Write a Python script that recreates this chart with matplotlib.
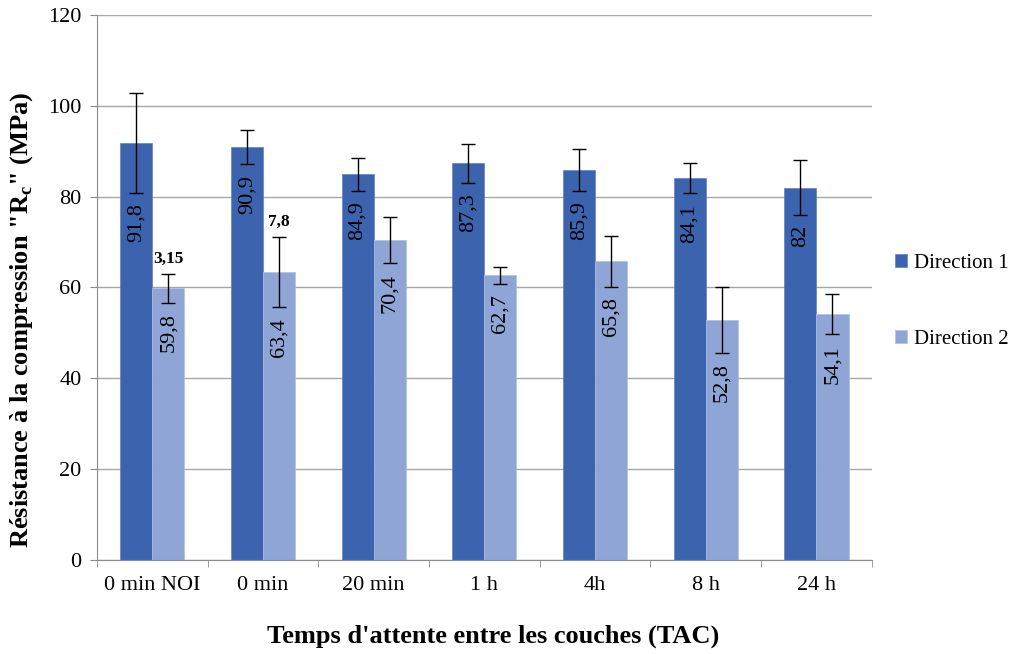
import numpy as np
import matplotlib
matplotlib.use('Agg')
import matplotlib.pyplot as plt
from matplotlib.ticker import FixedLocator

plt.rcParams['font.family'] = ['Liberation Serif', 'DejaVu Serif']
plt.rcParams['mathtext.fontset'] = 'custom'
plt.rcParams['mathtext.rm'] = 'Liberation Serif'
plt.rcParams['mathtext.bf'] = 'Liberation Serif:bold'

# data
categories = ['0 min NOI', '0 min', '20 min', '1 h', '4h', '8 h', '24 h']
dir1 = [91.8, 90.9, 84.9, 87.3, 85.9, 84.1, 82.0]
dir2 = [59.8, 63.4, 70.4, 62.7, 65.8, 52.8, 54.1]
err1 = [11.0, 3.8, 3.6, 4.3, 4.6, 3.4, 6.0]
err2 = [3.15, 7.8, 5.1, 1.9, 5.6, 7.2, 4.4]
labels1 = ['91,8', '90,9', '84,9', '87,3', '85,9', '84,1', '82']
labels2 = ['59,8', '63,4', '70,4', '62,7', '65,8', '52,8', '54,1']
notes2 = {0: '3,15', 1: '7,8'}

c1 = '#3c64ae'
c2 = '#8fa5d5'

fig = plt.figure(figsize=(10.09, 6.54), dpi=100)
ax = fig.add_axes([0.096, 0.144, 0.768, 0.833])

x = np.arange(len(categories))
w = 0.29

ax.bar(x - w / 2, dir1, w, color=c1, edgecolor='#5f82c2', linewidth=0.5,
       yerr=err1, error_kw=dict(ecolor='black', elinewidth=1, capsize=5, capthick=1),
       label='Direction 1', zorder=2)
ax.bar(x + w / 2, dir2, w, color=c2, edgecolor='#b0c0e3', linewidth=0.5,
       yerr=err2, error_kw=dict(ecolor='black', elinewidth=1, capsize=5, capthick=1),
       label='Direction 2', zorder=2)

# value labels inside bars, just below the error bar
for i in range(len(categories)):
    ax.text(x[i] - w / 2, dir1[i] - err1[i] - 2.3, labels1[i], rotation=90,
            ha='center', va='top', fontsize=16, zorder=3)
    ax.text(x[i] + w / 2, dir2[i] - err2[i] - 2.3, labels2[i], rotation=90,
            ha='center', va='top', fontsize=16, zorder=3)

for i, t in notes2.items():
    ax.text(x[i] + w / 2, dir2[i] + err2[i] + 1.5, t, ha='center', va='bottom',
            fontsize=12.5, fontweight='bold', zorder=3)

ax.set_xlim(-0.5, len(categories) - 0.5)
ax.set_ylim(0, 120)
ax.set_yticks(np.arange(0, 121, 20))
ax.yaxis.grid(True, color='#a6a6a6', linewidth=1, zorder=0)
ax.set_axisbelow(True)

ax.set_xticks(x)
ax.set_xticklabels(categories, fontsize=16)
ax.xaxis.set_minor_locator(FixedLocator(np.arange(-0.5, len(categories), 1)))
ax.tick_params(axis='x', which='major', length=0, pad=12)
ax.tick_params(axis='x', which='minor', length=5, color='#8c8c8c')
ax.tick_params(axis='y', length=5, color='#8c8c8c', labelsize=16, pad=6)

for s in ['top', 'right']:
    ax.spines[s].set_visible(False)
for s in ['left', 'bottom']:
    ax.spines[s].set_color('#8c8c8c')

ax.set_xlabel("Temps d'attente entre les couches (TAC)", fontsize=19,
              fontweight='bold')
ax.xaxis.set_label_coords(0.511, -0.118)
ax.set_ylabel('Résistance à la compression "R$_\\mathbf{c}$" (MPa)', fontsize=19,
              fontweight='bold')
ax.yaxis.set_label_coords(-0.08, 0.44)

fig.legend(loc='center left', bbox_to_anchor=(0.887, 0.539), frameon=False,
           fontsize=15, labelspacing=2.75, handlelength=0.6, handleheight=0.6,
           handletextpad=0.3, borderpad=0, borderaxespad=0)

fig.savefig('out.png', dpi=100)
